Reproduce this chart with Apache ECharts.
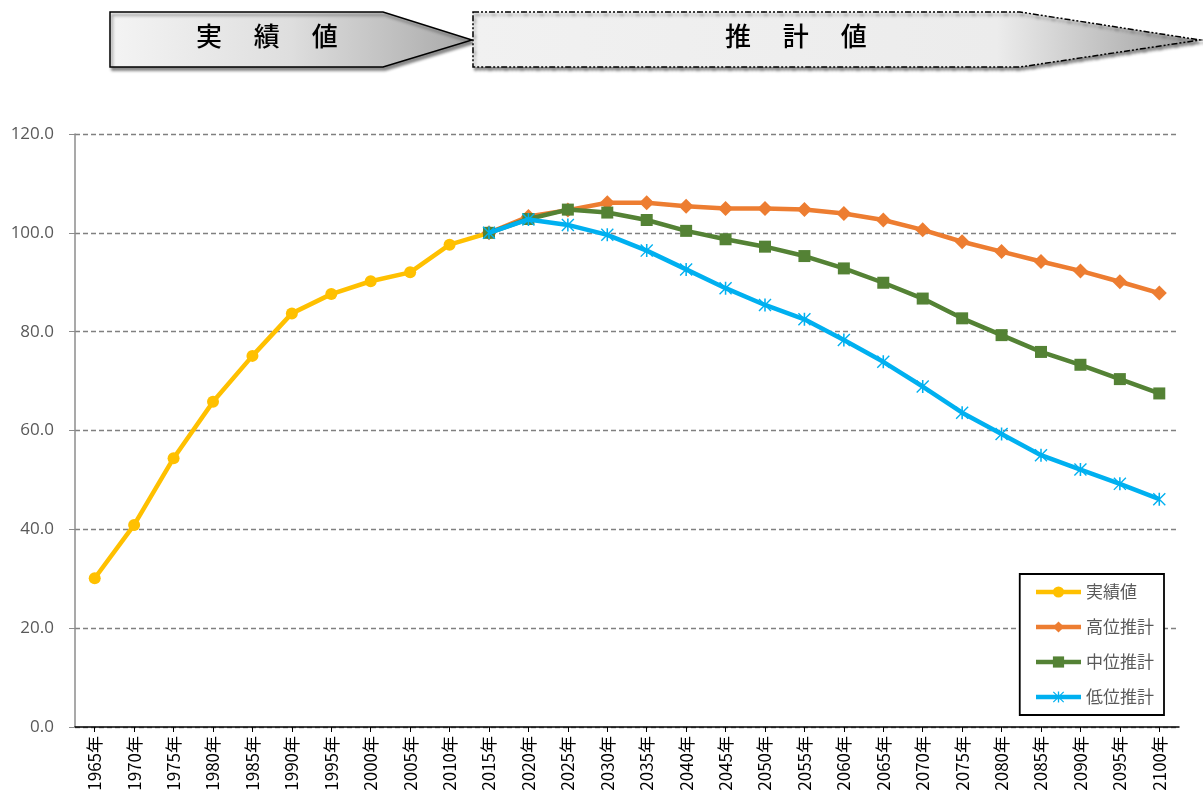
<!DOCTYPE html>
<html>
<head>
<meta charset="utf-8">
<script src="https://cdn.jsdelivr.net/npm/echarts@6/dist/echarts.min.js"></script>
<style>
html,body{margin:0;padding:0;background:#fff;}
#c{width:1203px;height:801px;}
</style>
</head>
<body>
<div id="c"></div>
<script>
const categories = ['1965年','1970年','1975年','1980年','1985年','1990年','1995年','2000年','2005年','2010年','2015年','2020年','2025年','2030年','2035年','2040年','2045年','2050年','2055年','2060年','2065年','2070年','2075年','2080年','2085年','2090年','2095年','2100年'];
const actual = [30.1,40.9,54.4,65.8,75.1,83.7,87.6,90.2,92.0,97.6,100.0,null,null,null,null,null,null,null,null,null,null,null,null,null,null,null,null,null];
const high = [null,null,null,null,null,null,null,null,null,null,100.0,103.3,104.6,106.1,106.1,105.4,104.9,104.9,104.7,103.9,102.6,100.6,98.2,96.2,94.2,92.3,90.1,87.8];
const mid = [null,null,null,null,null,null,null,null,null,null,100.0,102.8,104.7,104.1,102.6,100.4,98.7,97.2,95.3,92.8,89.9,86.7,82.7,79.3,75.9,73.3,70.4,67.5];
const low = [null,null,null,null,null,null,null,null,null,null,100.0,102.7,101.6,99.6,96.4,92.6,88.8,85.4,82.5,78.3,73.9,68.9,63.6,59.3,55.0,52.1,49.2,46.1];
const seriesNames = ['実績値','高位推計','中位推計','低位推計'];
const yTicks = {min:0, max:120, interval:20};

const star = 'path://M-6.43,-7.57L7.57,6.43L6.43,7.57L-7.57,-6.43Z M-7.57,6.43L6.43,-7.57L7.57,-6.43L-6.43,7.57Z M-0.9,-7.57L0.9,-7.57L0.9,7.57L-0.9,7.57Z';

const chart = echarts.init(document.getElementById('c'));
const jp = '"Noto Sans CJK JP", "Noto Sans", sans-serif';
chart.setOption({
  animation:false,
  backgroundColor:'#fff',
  textStyle:{fontFamily:jp},
  grid:{left:75, right:24, top:134, bottom:74, containLabel:false},
  legend:{
    orient:'vertical', right:39, top:574,
    data:seriesNames,
    itemWidth:45, itemHeight:14, itemGap:15,
    lineStyle:{width:4.5},
    textStyle:{fontSize:17, lineHeight:20, color:'#595959', fontFamily:jp},
    borderColor:'#000', borderWidth:1.8, backgroundColor:'#fff',
    padding:[8,10,8,14]
  },
  xAxis:{
    type:'category', data:categories, boundaryGap:true,
    axisLine:{lineStyle:{color:'#000', width:1.5}},
    axisTick:{show:true, alignWithLabel:true, length:5, lineStyle:{color:'#000'}},
    axisLabel:{rotate:90, fontSize:17, color:'#000', margin:9, fontFamily:'"Noto Sans CJK JP", sans-serif'},
    splitLine:{show:false}
  },
  yAxis:{
    type:'value', min:yTicks.min, max:yTicks.max, interval:yTicks.interval,
    axisLine:{show:true, lineStyle:{color:'#8c8c8c', width:1.5}},
    axisTick:{show:true, length:6, lineStyle:{color:'#8c8c8c'}},
    axisLabel:{formatter:v=>v.toFixed(1), fontSize:17, color:'#595959', margin:21, fontFamily:'"Open Sans", "Noto Sans", sans-serif'},
    splitLine:{show:true, lineStyle:{type:[5,3], color:'#808080', width:1.3}}
  },
  series:[
    {name:seriesNames[0], type:'line', data:actual, symbol:'circle', symbolSize:12,
     lineStyle:{width:4.5, color:'#FFC000'}, itemStyle:{color:'#FFC000'}, z:2},
    {name:seriesNames[1], type:'line', data:high, symbol:'diamond', symbolSize:15,
     lineStyle:{width:4.5, color:'#ED7D31'}, itemStyle:{color:'#ED7D31'}, z:3},
    {name:seriesNames[2], type:'line', data:mid, symbol:'rect', symbolSize:12,
     lineStyle:{width:4.5, color:'#548235'}, itemStyle:{color:'#548235'}, z:4},
    {name:seriesNames[3], type:'line', data:low, symbol:star, symbolSize:13,
     lineStyle:{width:4.5, color:'#00B0F0'}, itemStyle:{color:'#00B0F0'}, z:5}
  ],
  graphic:[
    {type:'polygon', z:10,
     shape:{points:[[110,12],[383,12],[472,40],[383,67],[110,67]]},
     style:{fill:new echarts.graphic.LinearGradient(0,0,1,0,[{offset:0,color:'#f4f4f4'},{offset:0.5,color:'#dedede'},{offset:1,color:'#a8a8a8'}]),
            stroke:'#000', lineWidth:1.5, shadowBlur:3, shadowOffsetX:2, shadowOffsetY:3, shadowColor:'rgba(0,0,0,0.45)'}},
    {type:'text', z:11, left:196, top:23,
     style:{text:'実　 績　 値', fontSize:26, fontFamily:jp, fill:'#000', fontWeight:500}},
    {type:'polygon', z:10,
     shape:{points:[[473,12],[1020,12],[1200,40],[1020,67],[473,67]]},
     style:{fill:new echarts.graphic.LinearGradient(0,0,1,0,[{offset:0,color:'#f1f1f1'},{offset:0.72,color:'#ececec'},{offset:1,color:'#9c9c9c'}]),
            stroke:'#000', lineWidth:1.5, lineDash:[6,2,2,2,2,2], shadowBlur:3, shadowOffsetX:2, shadowOffsetY:3, shadowColor:'rgba(0,0,0,0.45)'}},
    {type:'text', z:11, left:725, top:23,
     style:{text:'推　 計　 値', fontSize:26, fontFamily:jp, fill:'#000', fontWeight:500}}
  ]
});
</script>
</body>
</html>
